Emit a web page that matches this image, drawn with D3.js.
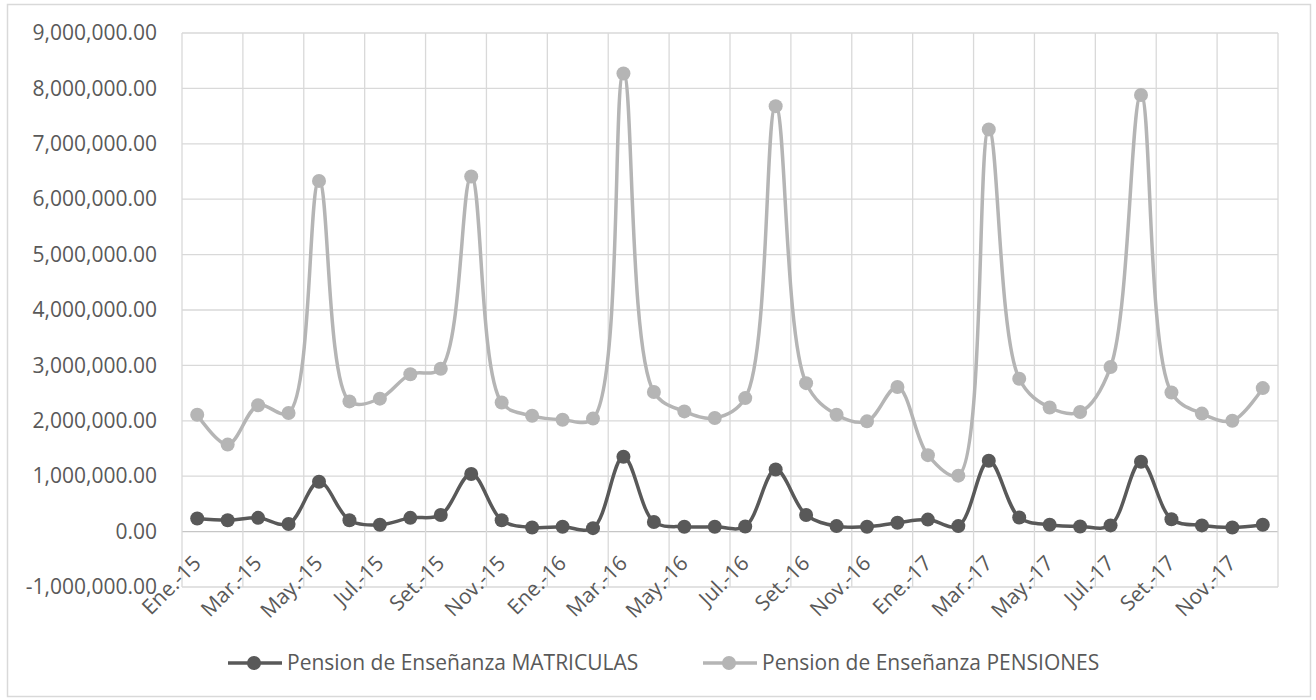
<!DOCTYPE html>
<html>
<head>
<meta charset="utf-8">
<script src="https://cdn.jsdelivr.net/npm/d3@7"></script>
<style>
  body { margin: 0; background: #fff; }
  text { font-family: "Open Sans", sans-serif; fill: #595959; }
</style>
</head>
<body>
<div id="chart"></div>
<script>
const categories = [
  "Ene.-15","Feb.-15","Mar.-15","Abr.-15","May.-15","Jun.-15","Jul.-15","Ago.-15","Set.-15","Oct.-15","Nov.-15","Dic.-15",
  "Ene.-16","Feb.-16","Mar.-16","Abr.-16","May.-16","Jun.-16","Jul.-16","Ago.-16","Set.-16","Oct.-16","Nov.-16","Dic.-16",
  "Ene.-17","Feb.-17","Mar.-17","Abr.-17","May.-17","Jun.-17","Jul.-17","Ago.-17","Set.-17","Oct.-17","Nov.-17","Dic.-17"
];

const matriculas = [
  236000, 205000, 248000, 137000, 900000, 205000,
  124000, 248000, 300000, 1040000, 205000, 74000,
  87000, 62000, 1350000, 174000, 87000, 87000,
  93000, 1120000, 300000, 99000, 87000, 161000,
  217000, 99000, 1280000, 254000, 124000, 93000,
  112000, 1260000, 223000, 112000, 74000, 124000
];

const pensiones = [
  2110000, 1570000, 2280000, 2140000, 6330000, 2350000,
  2400000, 2840000, 2940000, 6410000, 2330000, 2090000,
  2020000, 2040000, 8270000, 2520000, 2170000, 2050000,
  2410000, 7680000, 2680000, 2110000, 1990000, 2610000,
  1380000, 1010000, 7260000, 2760000, 2240000, 2160000,
  2970000, 7880000, 2510000, 2130000, 2000000, 2590000
];

const yTicks = [-1000000, 0, 1000000, 2000000, 3000000, 4000000, 5000000, 6000000, 7000000, 8000000, 9000000];

const seriesNames = ["Pension de Enseñanza MATRICULAS", "Pension de Enseñanza PENSIONES"];

const width = 1316;
const height = 700;
const colors = ["#595959", "#b5b5b5"];

const svg = d3.select("#chart").append("svg")
  .attr("width", width)
  .attr("height", height);

svg.append("rect")
  .attr("width", width).attr("height", height)
  .attr("fill", "#fff");

// chart border
svg.append("rect")
  .attr("x", 7.5).attr("y", 4.5)
  .attr("width", 1303).attr("height", 692)
  .attr("fill", "none")
  .attr("stroke", "#d9d9d9")
  .attr("stroke-width", 1.5);

const x = d3.scaleBand().domain(categories).range([182, 1278]);
const y = d3.scaleLinear().domain([-1000000, 9000000]).range([587, 33]);
const bw = x.bandwidth();
const cx = d => x(d) + bw / 2;

// gridlines
const grid = svg.append("g");
grid.selectAll(".h")
  .data(yTicks)
  .enter().append("line")
  .attr("x1", 182).attr("x2", 1278)
  .attr("y1", d => y(d)).attr("y2", d => y(d))
  .attr("stroke", d => d === 0 ? "#c6c6c6" : "#d9d9d9")
  .attr("stroke-width", 1.3);

const vGrid = categories.filter((d, i) => i % 2 === 0).map(d => x(d)).concat([1278]);
grid.selectAll(".v")
  .data(vGrid)
  .enter().append("line")
  .attr("x1", d => d).attr("x2", d => d)
  .attr("y1", 33).attr("y2", 587)
  .attr("stroke", "#d9d9d9")
  .attr("stroke-width", 1.3);

// y axis
const fmt = d3.formatLocale({ decimal: ".", thousands: ",", grouping: [3], currency: ["", ""], minus: "-" }).format(",.2f");
const yAxis = svg.append("g")
  .attr("transform", "translate(182,0)")
  .call(d3.axisLeft(y).tickValues(yTicks).tickSize(0).tickPadding(25).tickFormat(fmt));
yAxis.select(".domain").remove();
yAxis.selectAll("text")
  .attr("font-size", 21)
  .attr("font-family", "Open Sans")
  .attr("fill", "#595959");

// x axis at zero
const xAxis = svg.append("g")
  .attr("transform", `translate(0,${y(0)})`)
  .call(d3.axisBottom(x).tickValues(categories.filter((d, i) => i % 2 === 0)).tickSize(0));
xAxis.select(".domain").remove();
xAxis.selectAll("text")
  .attr("font-size", 21)
  .attr("font-family", "Open Sans")
  .attr("fill", "#595959")
  .attr("x", 0).attr("y", 0).attr("dy", 0)
  .attr("text-anchor", "end")
  .attr("transform", "translate(5,33) rotate(-45)");

// lines
const line = d3.line()
  .x((d, i) => cx(categories[i]))
  .y(d => y(d))
  .curve(d3.curveCatmullRom.alpha(0.5));

[pensiones, matriculas].forEach((data, k) => {
  const col = k === 0 ? colors[1] : colors[0];
  svg.append("path")
    .datum(data)
    .attr("d", line)
    .attr("fill", "none")
    .attr("stroke", col)
    .attr("stroke-width", 3.5)
    .attr("stroke-linejoin", "round");
  svg.append("g").selectAll("circle")
    .data(data)
    .enter().append("circle")
    .attr("cx", (d, i) => cx(categories[i]))
    .attr("cy", d => y(d))
    .attr("r", 7)
    .attr("fill", col);
});

// legend
const legendItems = [
  { name: seriesNames[0], color: colors[0], x: 228 },
  { name: seriesNames[1], color: colors[1], x: 703 }
];
const lg = svg.append("g").selectAll("g")
  .data(legendItems)
  .enter().append("g")
  .attr("transform", d => `translate(${d.x},663)`);
lg.append("line")
  .attr("x1", 0).attr("x2", 54)
  .attr("stroke", d => d.color)
  .attr("stroke-width", 3.5);
lg.append("circle")
  .attr("cx", 26).attr("r", 7)
  .attr("fill", d => d.color);
lg.append("text")
  .attr("x", 59)
  .attr("dy", "0.35em")
  .attr("font-size", 21)
  .text(d => d.name);
</script>
</body>
</html>
